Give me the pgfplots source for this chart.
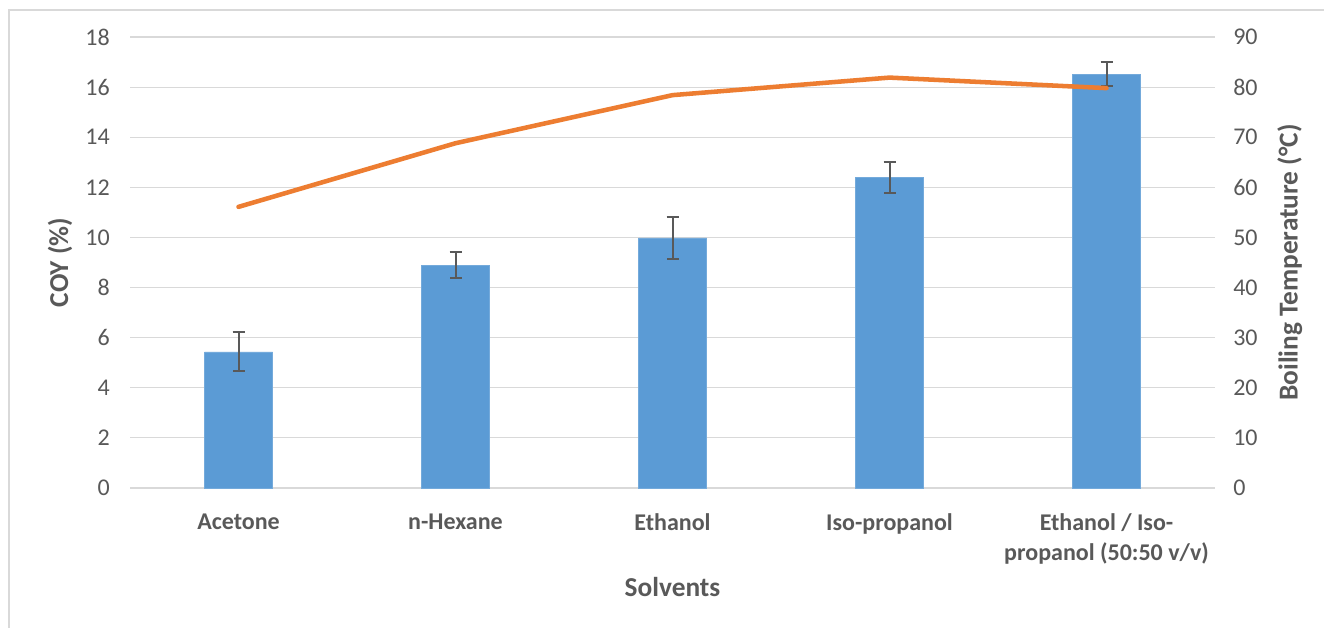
\documentclass[border=0pt]{standalone}
\usepackage{pgfplots}
\pgfplotsset{compat=1.18}
\usepackage{fontspec}
\setmainfont{Carlito}
\definecolor{barblue}{HTML}{5B9BD5}
\definecolor{lineorange}{HTML}{ED7D31}
\definecolor{txtgray}{HTML}{595959}
\definecolor{gridgray}{HTML}{D9D9D9}
\begin{document}
\begin{tikzpicture}[x=1pt,y=1pt]
\useasboundingbox (0,0) rectangle (993,471);
\fill[white] (0,0) rectangle (993,471);
\draw[gridgray, line width=1.5pt] (6.75,0) -- (6.75,463.5) -- (993,463.5);
\begin{axis}[
  at={(97.5pt,105pt)}, anchor=south west,
  scale only axis, width=813.75pt, height=338.25pt,
  xmin=-0.5, xmax=4.5, ymin=0, ymax=18,
  ytick={0,2,...,18},
  xtick={0,1,2,3,4},
  xticklabels={Acetone, n-Hexane, Ethanol, Iso-propanol, {Ethanol / Iso-\\propanol (50:50 v/v)}},
  /pgf/number format/assume math mode=true,
  axis line style={draw=none},
  major tick length=0pt,
  ymajorgrids, grid style={gridgray, line width=0.9pt},
  yticklabel style={font=\fontsize{18}{21}\selectfont, text=txtgray, anchor=east, inner sep=0pt, xshift=-15pt},
  xticklabel style={font=\fontsize{18}{22.5}\selectfont\bfseries, text=txtgray, anchor=north, align=center, inner sep=0pt, yshift=-19pt},
  xlabel={Solvents},
  ylabel={COY (\%)},
  xlabel style={font=\fontsize{20.5}{24}\selectfont\bfseries, text=txtgray, at={(axis description cs:0.5,-0.2195)}, anchor=center},
  ylabel style={font=\fontsize{20.5}{24}\selectfont\bfseries, text=txtgray, at={(axis description cs:-0.0645,0.5)}, anchor=center, rotate=0},
  clip=false,
]
\draw[gridgray, line width=0.9pt] (axis cs:-0.5,0) -- (axis cs:4.5,0);
\addplot[ybar, bar width=51pt, fill=barblue, draw=barblue!85!white,
  error bars/.cd, y dir=both, y explicit,
  error bar style={txtgray, line width=1.5pt},
  error mark options={txtgray, rotate=90, mark size=4.5pt, line width=1.5pt}]
  coordinates {
  (0,5.43) +- (0,0.78)
  (1,8.90) +- (0,0.50)
  (2,9.98) +- (0,0.84)
  (3,12.41) +- (0,0.62)
  (4,16.52) +- (0,0.48)
  };
\end{axis}
\begin{axis}[
  at={(97.5pt,105pt)}, anchor=south west,
  scale only axis, width=813.75pt, height=338.25pt,
  xmin=-0.5, xmax=4.5, ymin=0, ymax=90,
  ytick={0,10,...,90},
  /pgf/number format/assume math mode=true,
  axis x line=none,
  axis y line*=right,
  axis line style={draw=none},
  major tick length=0pt,
  yticklabel style={font=\fontsize{18}{21}\selectfont, text=txtgray, anchor=west, inner sep=0pt, xshift=13.5pt},
  ylabel={Boiling Temperature (°C)},
  ylabel style={font=\fontsize{20.5}{24}\selectfont\bfseries, text=txtgray, at={(axis description cs:1.069,0.5)}, anchor=center, rotate=0},
  clip=false,
]
\addplot[lineorange, line width=3.4pt, line cap=round, line join=round, mark=none]
  coordinates {(0,56.1) (1,68.8) (2,78.4) (3,81.9) (4,79.8)};
\end{axis}
\end{tikzpicture}
\end{document}
